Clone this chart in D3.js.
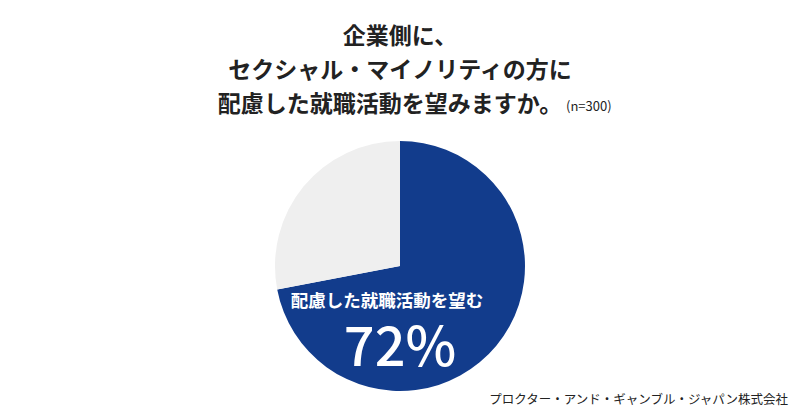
<!DOCTYPE html>
<html><head><meta charset="utf-8">
<script src="https://cdn.jsdelivr.net/npm/d3@7"></script>
<style>body{margin:0;background:#fff}</style></head>
<body><svg id="c" width="800" height="419"></svg>
<script>
const categories = ["配慮した就職活動を望む", "その他"];
const values = [72, 28];
const colors = ["#123c8c", "#efefef"];
const titleLines = ["企業側に、", "セクシャル・マイノリティの方に", "配慮した就職活動を望みますか。"];
const note = "(n=300)";
const source = "プロクター・アンド・ギャンブル・ジャパン株式会社";

const svg = d3.select("#c");
const F = "'Noto Sans CJK JP', sans-serif";
const cx = 400, cy = 266, r = 125;
const pie = d3.pie().sort(null)(values);
const arc = d3.arc().innerRadius(0).outerRadius(r);
svg.append("g").attr("transform", `translate(${cx},${cy})`)
  .selectAll("path").data(pie).join("path")
  .attr("d", arc).attr("fill", (d, i) => colors[i]);

const ty = [44, 78, 112];
titleLines.forEach((t, i) => {
  svg.append("text").attr("x", i === 2 ? 390 : 400).attr("y", ty[i])
    .attr("text-anchor", "middle").attr("font-family", F).attr("font-weight", "bold")
    .attr("font-size", 23).attr("fill", "#222").text(t);
});
svg.append("text").attr("x", 566).attr("y", 111).attr("font-family", F)
  .attr("font-size", 13).attr("fill", "#222").text(note);

svg.append("text").attr("x", 387).attr("y", 307).attr("text-anchor", "middle")
  .attr("font-family", F).attr("font-weight", "bold").attr("font-size", 17.5)
  .attr("fill", "#fff").text(categories[0]);
svg.append("text").attr("x", 400).attr("y", 366).attr("text-anchor", "middle")
  .attr("font-family", F).attr("font-weight", "500").attr("font-size", 54)
  .attr("fill", "#fff").text(values[0] + "%");

svg.append("text").attr("x", 788).attr("y", 404).attr("text-anchor", "end")
  .attr("font-family", F).attr("font-size", 12.5).attr("fill", "#222").text(source);
</script></body></html>
